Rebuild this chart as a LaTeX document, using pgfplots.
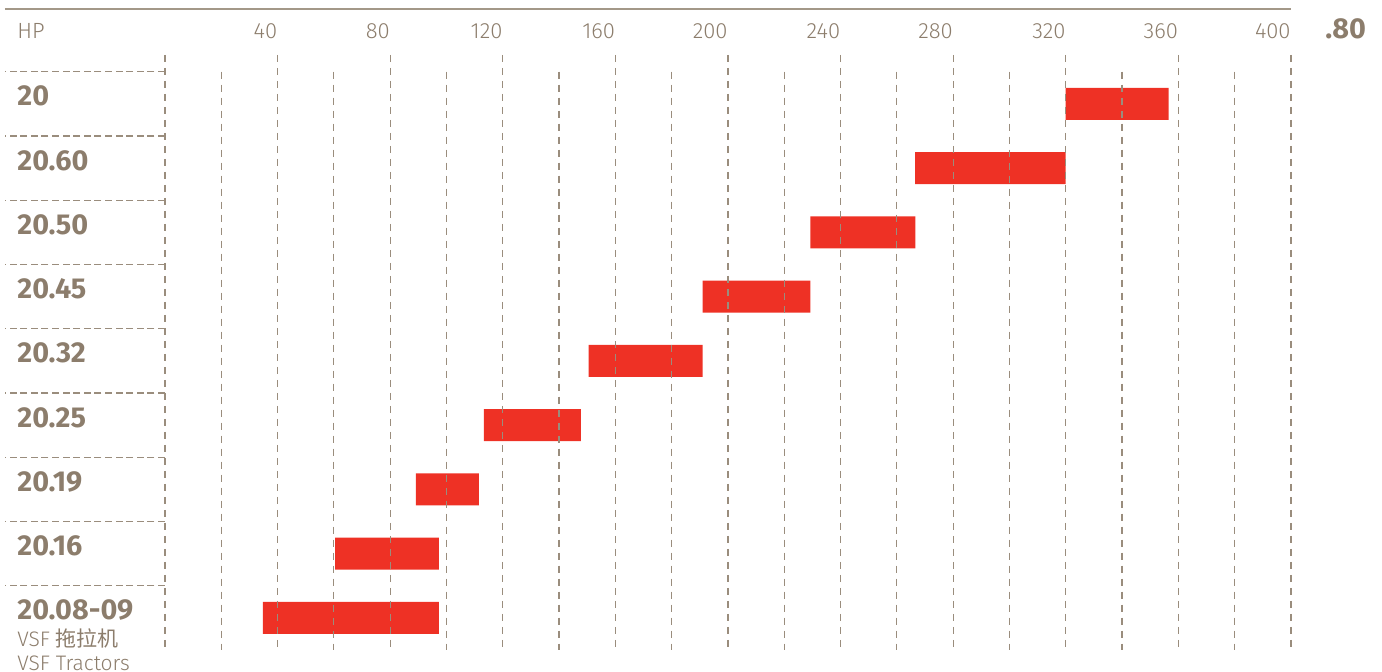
\documentclass[border=0pt]{standalone}
\usepackage{pgfplots}
\pgfplotsset{compat=1.18}
\usepackage{pgfplotstable}
\usepackage{fontspec}
\setmainfont{Fira Sans}
\newfontfamily\lightfont{Fira Sans Light}
\newfontfamily\cjk{Noto Sans CJK SC}

\definecolor{txt}{HTML}{8C7D6C}
\definecolor{gridc}{HTML}{9A8D7D}
\definecolor{topline}{HTML}{A39888}
\definecolor{barred}{HTML}{EE3125}

% power range per model (HP): start and length
\pgfplotstableread{
row start len
0 34.8 62.5
1 60.4 36.9
2 89.1 22.4
3 113.3 34.4
4 150.5 40.5
5 191.0 38.3
6 229.3 37.3
7 266.5 53.4
8 319.9 36.6
}\ranges

\begin{document}
\begin{tikzpicture}
\useasboundingbox (-82.5pt,-11pt) rectangle (608.5pt,325pt);
\begin{axis}[
    at={(0,0)}, anchor=south west,
    scale only axis,
    width=563pt, height=297.5pt,
    xmin=0, xmax=400,
    ymin=-0.5, ymax=8.76,
    clip=false,
    xbar stacked,
    bar width=16pt,
    axis line style={draw=none},
    major tick length=0pt,
    xticklabel pos=upper,
    xtick={40,80,...,400},
    xticklabel style={anchor=base east, inner sep=0pt, yshift=8pt, xshift=0pt,
        font=\lightfont\fontsize{11}{13}\selectfont, text=txt},
    /pgf/number format/assume math mode=true,
    ytick={0,...,8},
    yticklabels={20.08-09,20.16,20.19,20.25,20.32,20.45,20.50,20.60,20},
    yticklabel style={anchor=base west, inner sep=0pt, xshift=-74pt, yshift=-1pt,
        font=\bfseries\fontsize{14.4}{17}\selectfont, text=txt},
]
% grid
\pgfplotsinvokeforeach{0,40,80,120,160,200,240,280,320,360,400}{
  \draw[gridc, line width=0.6pt, dash pattern=on 3.5pt off 3pt]
    (axis cs:#1,8.76) -- (axis cs:#1,-0.5);
}
\pgfplotsinvokeforeach{20,60,100,140,180,220,260,300,340,380}{
  \draw[gridc, line width=0.6pt, dash pattern=on 3.5pt off 3pt]
    (axis cs:#1,8.5) -- (axis cs:#1,-0.5);
}
\pgfplotsinvokeforeach{0.5,1.5,2.5,3.5,4.5,5.5,6.5,7.5,8.5}{
  \draw[gridc, line width=0.6pt, dash pattern=on 3.5pt off 1.8pt]
    (axis cs:0,#1) -- ([xshift=-80pt]axis cs:0,#1);
}
\addplot[draw=none, fill=none] table[x=start, y=row] {\ranges};
\addplot[draw=none, fill=barred] table[x=len, y=row] {\ranges};
\end{axis}
\draw[topline, line width=0.7pt] (-80pt,320.5pt) -- (563pt,320.5pt);
\node[anchor=base west, inner sep=0pt, text=txt, font=\lightfont\fontsize{11}{13}\selectfont] at (-74pt,305.8pt) {HP};
\node[anchor=base west, inner sep=0pt, text=txt, font=\bfseries\fontsize{14.4}{17}\selectfont] at (580pt,305.5pt) {.80};
\node[anchor=base west, inner sep=0pt, text=txt, font=\lightfont\fontsize{10.5}{13}\selectfont] at (-74pt,1.5pt) {VSF {\cjk 拖拉机}};
\node[anchor=base west, inner sep=0pt, text=txt, font=\lightfont\fontsize{10.5}{13}\selectfont] at (-74pt,-10.5pt) {VSF Tractors};
\end{tikzpicture}
\end{document}
